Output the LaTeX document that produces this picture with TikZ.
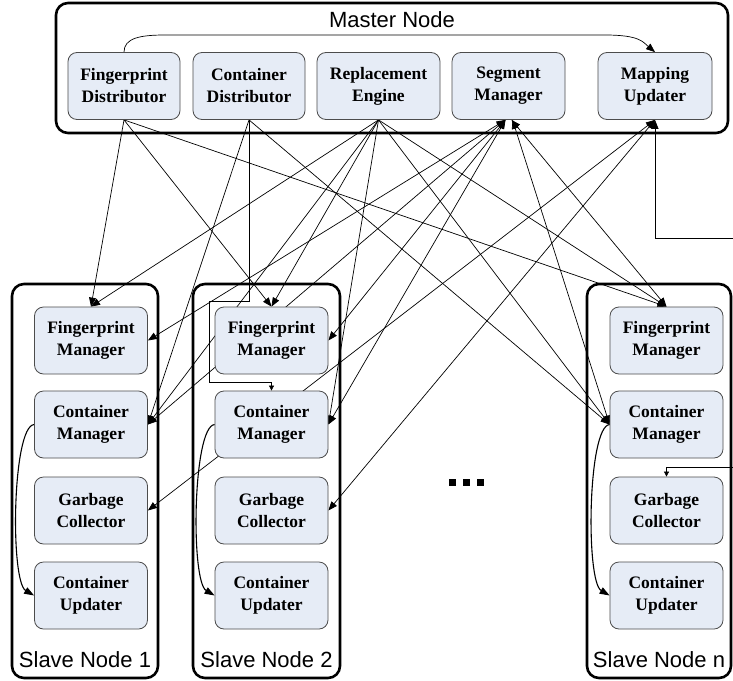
\documentclass[tikz,border=0pt]{standalone}
\usepackage{fontspec}
\setmainfont{Liberation Serif}
\newfontfamily\labelfont{Liberation Sans}
\usetikzlibrary{arrows.meta}
\pgfdeclarelayer{paper}
\pgfdeclarelayer{links}
\pgfsetlayers{paper,links,main}
\definecolor{boxfill}{RGB}{230,236,246}

\begin{document}
\begin{tikzpicture}[x=1pt,y=-1pt,
  comp/.style={draw=black!70, line width=0.8pt, fill=boxfill, rounded corners=9pt,
    minimum width=112pt, minimum height=67pt, inner sep=0pt, align=center,
    font=\fontsize{17.5}{22}\selectfont\bfseries},
  group/.style={draw=black, line width=2.6pt, rounded corners=12pt, inner sep=0pt},
  grouplabel/.style={font=\labelfont\fontsize{22}{24}\selectfont, inner sep=0pt},
  link/.style={line width=0.7pt, -{Triangle[length=9pt,width=7pt]}},
  bilink/.style={line width=0.7pt, {Triangle[length=9pt,width=7pt]}-{Triangle[length=9pt,width=7pt]}},
  hint/.style={line width=0.7pt, -{Triangle[length=5pt,width=5pt]}},
  loopback/.style={line width=1.1pt, -{Triangle[length=10pt,width=7pt]}},
]
\useasboundingbox (0,0) rectangle (733,680);
\begin{pgfonlayer}{paper}
  \fill[white] (0,0) rectangle (733,680);
\end{pgfonlayer}

% ---------- master node ----------
\node[group, minimum width=672pt, minimum height=130pt] (master) at (392,68) {};
\node[grouplabel] (masterlabel) at (392,20) {Master Node};
\node[comp] (fd) at (124,86) {Fingerprint\\Distributor};
\node[comp] (cd) at (249,86) {Container\\Distributor};
\node[comp, minimum width=123pt] (re) at (378.5,86) {Replacement\\Engine};
\node[comp, minimum width=113pt] (sm) at (508.5,86) {Segment\\Manager};
\node[comp, minimum width=114pt] (mu) at (655,86) {Mapping\\Updater};

% ---------- slave nodes ----------
\node[group, minimum width=146pt, minimum height=394pt] (s1) at (85,481) {};
\node[group, minimum width=147pt, minimum height=394pt] (s2) at (266.5,481) {};
\node[group, minimum width=144pt, minimum height=394pt] (sn) at (659,481) {};
\node[grouplabel] (s1label) at (85,660) {Slave Node 1};
\node[grouplabel] (s2label) at (266.5,660) {Slave Node 2};
\node[grouplabel] (snlabel) at (659,660) {Slave Node n};

\foreach \k/\x in {1/91, 2/271.5, n/666.5}{
  \node[comp, minimum width=113pt] (fm\k) at (\x,340.5) {Fingerprint\\Manager};
  \node[comp, minimum width=113pt] (cm\k) at (\x,424.5) {Container\\Manager};
  \node[comp, minimum width=113pt] (gc\k) at (\x,510.5) {Garbage\\Collector};
  \node[comp, minimum width=113pt] (cu\k) at (\x,595.5) {Container\\Updater};
}

% more slave nodes in between
\foreach \i in {0,1,2}
  \fill (449+14*\i,479) rectangle ++(7,7);

\coordinate (j1) at (209,301);
\coordinate (j2) at (209,382);
\coordinate (outA) at (733,238);
\coordinate (outB) at (733,467);
\coordinate (topL) at (165,35);
\coordinate (topR) at (605,35);

\begin{pgfonlayer}{links}
  % fingerprint distributor
  \draw[link] (fd.south) -- (fm1.north);
  \draw[link] (fd.south) -- (fm2.north);
  \draw[link] (fd.south) -- (fmn.north);
  \draw[link] (fd.north) .. controls +(0,-14) and +(-25,0) .. (topL) -- (topR)
        .. controls +(35,0) and +(-12,-10) .. (mu.north);
  % container distributor
  \draw[link] (cd.south) -- (cm1.east);
  \draw[link] (cd.south) -- (cmn.west);
  \draw[hint] (cd.south) |- (j1) -- (j2) -| (cm2.north);
  % replacement engine
  \draw[link] (re.south) -- (fm1.north);
  \draw[link] (re.south) -- (fm2.north);
  \draw[link] (re.south) -- (fmn.north);
  \draw[link] (re.south) -- (cm1.east);
  \draw[link] (re.south) -- (cm2.east);
  \draw[link] (re.south) -- (cmn.west);
  % segment manager
  \draw[bilink] (fm1.east) -- ([xshift=-3pt]sm.south);
  \draw[bilink] (cm1.east) -- ([xshift=-3pt]sm.south);
  \draw[bilink] (fm2.east) -- ([xshift=-3pt]sm.south);
  \draw[bilink] (cm2.east) -- ([xshift=-3pt]sm.south);
  \draw[bilink] (fmn.north) -- ([xshift=3pt]sm.south);
  \draw[bilink] (cmn.west) -- ([xshift=4pt]sm.south);
  % mapping updater
  \draw[bilink] (gc1.east) -- (mu.south);
  \draw[bilink] (gc2.east) -- (mu.south);
  \draw[link] (outA) -| (mu.south);
  \draw[hint] (outB) -| (gcn.north);
  % container manager to container updater
  \foreach \k in {1,2,n}
    \draw[loopback] (cm\k.west) .. controls +(-22,2) and +(-24,-14) .. (cu\k.west);
\end{pgfonlayer}
\end{tikzpicture}
\end{document}
